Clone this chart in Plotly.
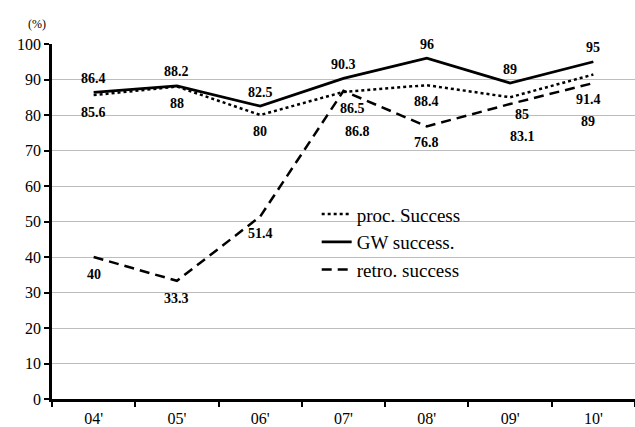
import plotly.graph_objects as go

years = ["04'", "05'", "06'", "07'", "08'", "09'", "10'"]
proc_success = [85.6, 88, 80, 86.5, 88.4, 85, 91.4]
gw_success = [86.4, 88.2, 82.5, 90.3, 96, 89, 95]
retro_success = [40, 33.3, 51.4, 86.8, 76.8, 83.1, 89]
y_ticks = [0, 10, 20, 30, 40, 50, 60, 70, 80, 90, 100]

# label offsets (styling, px)
proc_off = [(0, -17), (0, -17), (0, -16), (9, -17), (0, -16), (12, -17), (-5, -25)]
gw_off = [(0, 14)] * 7
retro_off = [(0, -17), (0, -18), (0, -17), (14, -41), (0, -16), (12, -32), (-5, -38)]

FONT = "Liberation Serif, Times New Roman, serif"

fig = go.Figure()
fig.add_trace(go.Scatter(x=years, y=proc_success, mode="lines", name="proc. Success",
                         legendgroup="a",
                         line=dict(color="black", width=2.5, dash="dot")))
fig.add_trace(go.Scatter(x=years, y=gw_success, mode="lines", name="GW success.",
                         legendgroup="b",
                         line=dict(color="black", width=2.8)))
fig.add_trace(go.Scatter(x=years, y=retro_success, mode="lines", name="retro. success",
                         legendgroup="c",
                         line=dict(color="black", width=2.5, dash="10px,6px")))

annotations = []
for vals, offs in [(proc_success, proc_off), (gw_success, gw_off), (retro_success, retro_off)]:
    for x, v, (dx, dy) in zip(years, vals, offs):
        annotations.append(dict(x=x, y=v, text=f"{v:g}", showarrow=False,
                                xshift=dx, yshift=dy,
                                font=dict(family=FONT, size=14, color="black", weight="bold")))
annotations.append(dict(xref="paper", yref="paper", x=-0.026, y=1.03, xanchor="center",
                        yanchor="bottom", text="(%)", showarrow=False,
                        font=dict(family=FONT, size=12, color="black")))

fig.update_layout(
    width=635, height=427,
    margin=dict(l=52, r=0, t=44, b=26),
    paper_bgcolor="white", plot_bgcolor="white",
    font=dict(family=FONT, size=16, color="black"),
    showlegend=True,
    legend=dict(x=0.454, y=0.574, xanchor="left", yanchor="top",
                bgcolor="rgba(0,0,0,0)", borderwidth=0,
                font=dict(family=FONT, size=19, color="black"),
                traceorder="grouped", tracegroupgap=0, itemwidth=30),
    annotations=annotations,
)
fig.update_xaxes(type="category", range=[-0.5, 6.5], showgrid=False, showline=True,
                 linecolor="black", linewidth=2.5, ticks="outside", tickson="boundaries",
                 ticklen=5, tickwidth=2, tickcolor="black", zeroline=False,
                 ticklabelstandoff=3,
                 tickfont=dict(family=FONT, size=16))
fig.update_yaxes(range=[0, 100], tickvals=y_ticks, showgrid=True, gridcolor="#bdbdbd",
                 gridwidth=1, showline=True, linecolor="black", linewidth=2.5,
                 ticks="outside", ticklen=5, tickwidth=2, tickcolor="black",
                 zeroline=False, tickfont=dict(family=FONT, size=16))

fig.write_html("out.html", config={"displayModeBar": False},
               post_script="document.body.style.margin='0px';")
